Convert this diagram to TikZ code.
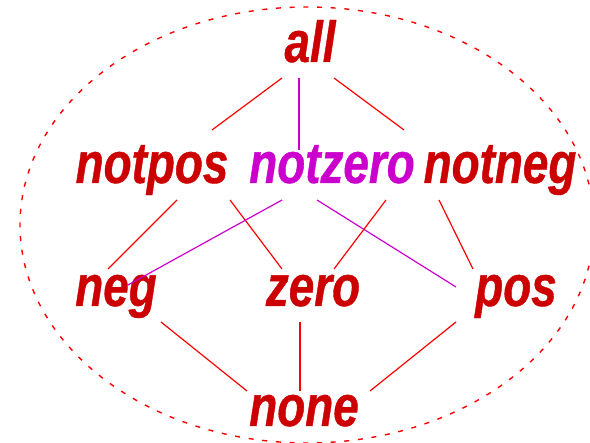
\documentclass[tikz,border=0pt]{standalone}
\usepackage{fontspec}
\usepackage{tikz}
\newfontfamily\latfont{Liberation Sans}[FakeStretch=0.79, FakeBold=0.7]
\definecolor{elemred}{RGB}{204,0,0}
\definecolor{elemmag}{RGB}{204,0,204}

\begin{document}
\begin{tikzpicture}[x=1pt, y=-1pt]
\tikzstyle{elem} = [anchor=base, inner sep=0pt, text=elemred, font=\latfont\bfseries\itshape\fontsize{58}{60}\selectfont]
\tikzstyle{link} = [red, line width=1.2pt]
\tikzstyle{zlink} = [elemmag, line width=1.2pt]

\useasboundingbox (0,0) rectangle (590,443);
\draw[red, line width=1.4pt, dash pattern=on 5pt off 8.7pt] (307,225) ellipse [x radius=287, y radius=218];

\node[elem] (all) at (310,62) {all};
\node[elem] (notpos) at (152,183) {notpos};
\node[elem, text=elemmag] (notzero) at (332,183) {notzero};
\node[elem] (notneg) at (500,183) {notneg};
\node[elem] (neg) at (116,306) {neg};
\node[elem] (zero) at (313,306) {zero};
\node[elem] (pos) at (516,306) {pos};
\node[elem] (none) at (304,426) {none};

\draw[link] ([xshift=-28pt,yshift=-16pt]all.base) -- ([xshift=60pt,yshift=53pt]notpos.base);
\draw[zlink] ([xshift=-11pt,yshift=-16pt]all.base) -- ([xshift=-33pt,yshift=33pt]notzero.base);
\draw[link] ([xshift=24pt,yshift=-16pt]all.base) -- ([xshift=-96pt,yshift=53pt]notneg.base);

\draw[link] ([xshift=25pt,yshift=-17pt]notpos.base) -- ([xshift=-8pt,yshift=37pt]neg.base);
\draw[link] ([xshift=78pt,yshift=-17pt]notpos.base) -- ([xshift=-31pt,yshift=37pt]zero.base);
\draw[zlink] ([xshift=-50pt,yshift=-17pt]notzero.base) -- ([xshift=12pt,yshift=21pt]neg.base);
\draw[zlink] ([xshift=-15pt,yshift=-17pt]notzero.base) -- ([xshift=-60pt,yshift=19pt]pos.base);
\draw[link] ([xshift=-114pt,yshift=-17pt]notneg.base) -- ([xshift=21pt,yshift=37pt]zero.base);
\draw[link] ([xshift=-61pt,yshift=-17pt]notneg.base) -- ([xshift=-43pt,yshift=37pt]pos.base);

\draw[link] ([xshift=45pt,yshift=-16pt]neg.base) -- ([xshift=-57pt,yshift=35pt]none.base);
\draw[link] ([xshift=-13pt,yshift=-16pt]zero.base) -- ([xshift=-4pt,yshift=35pt]none.base);
\draw[link] ([xshift=-60pt,yshift=-16pt]pos.base) -- ([xshift=66pt,yshift=35pt]none.base);
\end{tikzpicture}
\end{document}
